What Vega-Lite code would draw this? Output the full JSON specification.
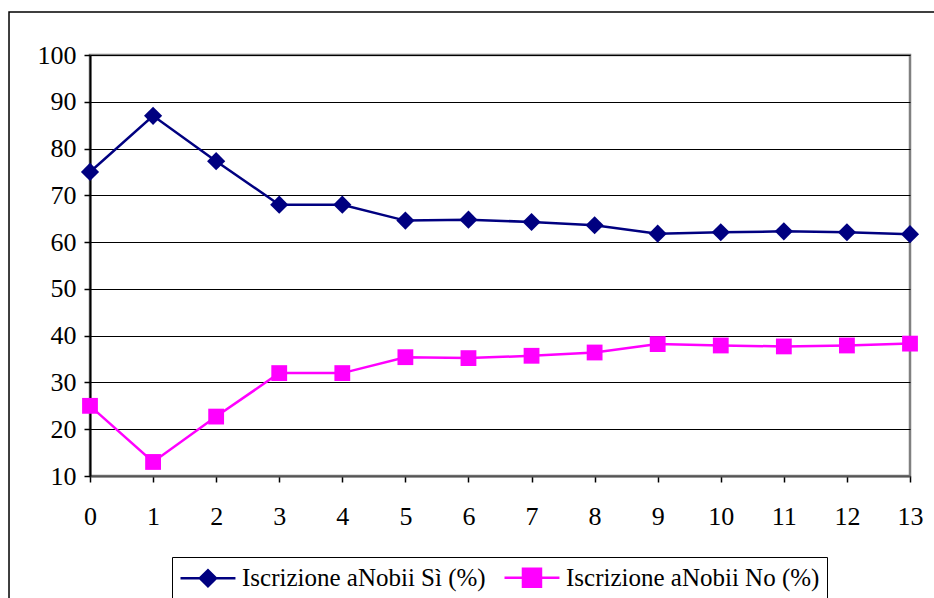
{
  "$schema": "https://vega.github.io/schema/vega-lite/v6.json",
  "width": 820,
  "height": 421,
  "autosize": {"type": "none"},
  "padding": {"left": 90, "top": 55, "right": 24, "bottom": 122},
  "background": "white",
  "config": {
    "font": "Liberation Serif",
    "view": {"stroke": "#808080", "strokeWidth": 2.5},
    "axis": {
      "title": null,
      "labelFont": "Liberation Serif",
      "labelFontSize": 26,
      "labelColor": "black",
      "labelFlush": false,
      "tickColor": "black",
      "tickSize": 6,
      "tickWidth": 1.5,
      "domainWidth": 2
    },
    "axisX": {"grid": false, "domainColor": "#555555", "labelPadding": 21},
    "axisY": {"grid": true, "gridColor": "black", "gridOpacity": 1, "gridWidth": 1, "domainColor": "black", "labelPadding": 8},
    "legend": {
      "labelFont": "Liberation Serif",
      "labelFontSize": 25,
      "labelColor": "black",
      "labelLimit": 400
    }
  },
  "datasets": {
    "frame": [{"x0": -1.284, "x1": 14.5, "y0": 109.2, "y1": -25}],
    "series": [
      {"x": 0, "serie": "Iscrizione aNobii Sì (%)", "v": 75},
      {"x": 1, "serie": "Iscrizione aNobii Sì (%)", "v": 87},
      {"x": 2, "serie": "Iscrizione aNobii Sì (%)", "v": 77.3},
      {"x": 3, "serie": "Iscrizione aNobii Sì (%)", "v": 68},
      {"x": 4, "serie": "Iscrizione aNobii Sì (%)", "v": 68},
      {"x": 5, "serie": "Iscrizione aNobii Sì (%)", "v": 64.6},
      {"x": 6, "serie": "Iscrizione aNobii Sì (%)", "v": 64.8},
      {"x": 7, "serie": "Iscrizione aNobii Sì (%)", "v": 64.3},
      {"x": 8, "serie": "Iscrizione aNobii Sì (%)", "v": 63.6},
      {"x": 9, "serie": "Iscrizione aNobii Sì (%)", "v": 61.8},
      {"x": 10, "serie": "Iscrizione aNobii Sì (%)", "v": 62.1},
      {"x": 11, "serie": "Iscrizione aNobii Sì (%)", "v": 62.3},
      {"x": 12, "serie": "Iscrizione aNobii Sì (%)", "v": 62.1},
      {"x": 13, "serie": "Iscrizione aNobii Sì (%)", "v": 61.7},
      {"x": 0, "serie": "Iscrizione aNobii No (%)", "v": 25},
      {"x": 1, "serie": "Iscrizione aNobii No (%)", "v": 13},
      {"x": 2, "serie": "Iscrizione aNobii No (%)", "v": 22.7},
      {"x": 3, "serie": "Iscrizione aNobii No (%)", "v": 32},
      {"x": 4, "serie": "Iscrizione aNobii No (%)", "v": 32},
      {"x": 5, "serie": "Iscrizione aNobii No (%)", "v": 35.4},
      {"x": 6, "serie": "Iscrizione aNobii No (%)", "v": 35.2},
      {"x": 7, "serie": "Iscrizione aNobii No (%)", "v": 35.7},
      {"x": 8, "serie": "Iscrizione aNobii No (%)", "v": 36.4},
      {"x": 9, "serie": "Iscrizione aNobii No (%)", "v": 38.2},
      {"x": 10, "serie": "Iscrizione aNobii No (%)", "v": 37.9},
      {"x": 11, "serie": "Iscrizione aNobii No (%)", "v": 37.7},
      {"x": 12, "serie": "Iscrizione aNobii No (%)", "v": 37.9},
      {"x": 13, "serie": "Iscrizione aNobii No (%)", "v": 38.3}
    ]
  },
  "layer": [
    {
      "data": {"name": "frame"},
      "mark": {"type": "rect", "fillOpacity": 0, "stroke": "black", "strokeWidth": 1.5, "clip": false},
      "encoding": {
        "x": {"field": "x0", "type": "quantitative", "scale": {"domain": [0, 13], "nice": false, "zero": false},
              "axis": {"values": [0, 1, 2, 3, 4, 5, 6, 7, 8, 9, 10, 11, 12, 13], "format": "d"}},
        "x2": {"field": "x1"},
        "y": {"field": "y0", "type": "quantitative", "scale": {"domain": [10, 100], "nice": false, "zero": false},
              "axis": {"values": [10, 20, 30, 40, 50, 60, 70, 80, 90, 100], "format": "d"}},
        "y2": {"field": "y1"}
      }
    },
    {
      "data": {"name": "series"},
      "encoding": {
        "x": {"field": "x", "type": "quantitative",
              "axis": {"values": [0, 1, 2, 3, 4, 5, 6, 7, 8, 9, 10, 11, 12, 13], "format": "d"}},
        "y": {"field": "v", "type": "quantitative",
              "axis": {"values": [10, 20, 30, 40, 50, 60, 70, 80, 90, 100], "format": "d"}},
        "color": {
          "field": "serie", "type": "nominal",
          "scale": {"domain": ["Iscrizione aNobii Sì (%)", "Iscrizione aNobii No (%)"], "range": ["#000080", "#FF00FF"]},
          "legend": {
            "title": null,
            "orient": "none",
            "legendX": 82,
            "legendY": 502,
            "direction": "horizontal",
            "columns": 2,
            "columnPadding": 13,
            "padding": 7,
            "strokeColor": "black",
            "fillColor": "white",
            "labelFont": "Liberation Serif",
            "labelFontSize": 25,
            "labelColor": "black",
            "labelLimit": 400,
            "labelOffset": 36,
            "symbolSize": 576,
            "symbolStrokeWidth": 2.5,
            "symbolOpacity": 1,
            "encode": {
              "symbols": {
                "update": {
                  "shape": {"signal": "datum.value === 'Iscrizione aNobii Sì (%)' ? 'M-1,0H3.58M0.62,0L1.29,-0.67L1.96,0L1.29,0.67Z' : 'M-1,0H3.58M0.54,-0.75H2.04V0.75H0.54Z'"},
                  "fill": {"signal": "datum.value === 'Iscrizione aNobii Sì (%)' ? '#000080' : '#FF00FF'"},
                  "stroke": {"signal": "datum.value === 'Iscrizione aNobii Sì (%)' ? '#000080' : '#FF00FF'"},
                  "strokeWidth": {"value": 2.5},
                  "opacity": {"value": 1}
                }
              }
            }
          }
        }
      },
      "layer": [
        {
          "mark": {"type": "line", "strokeWidth": 2.5}
        },
        {
          "transform": [{"filter": "datum.serie === 'Iscrizione aNobii Sì (%)'"}],
          "mark": {"type": "point", "shape": "diamond", "filled": true, "opacity": 1, "size": 330}
        },
        {
          "transform": [{"filter": "datum.serie === 'Iscrizione aNobii No (%)'"}],
          "mark": {"type": "point", "shape": "square", "filled": true, "opacity": 1, "size": 250}
        }
      ]
    }
  ]
}
